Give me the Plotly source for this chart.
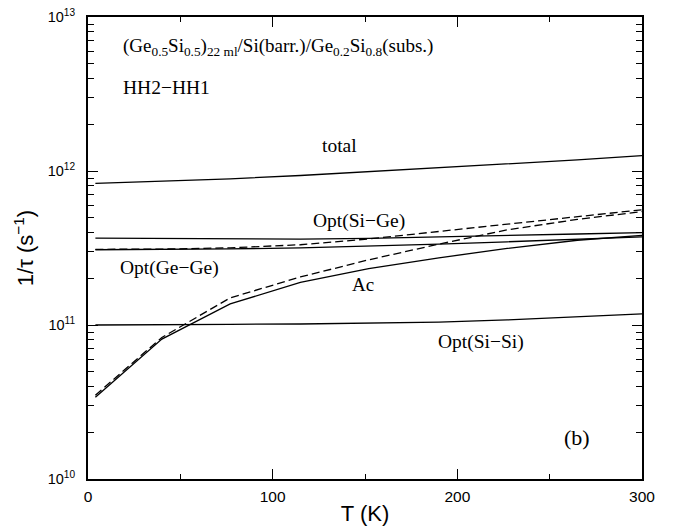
import plotly.graph_objects as go

# Temperature grid (K)
T = [4, 40, 77, 115, 152, 190, 227, 265, 300]

# Scattering rates 1/tau (s^-1)
total = [8.3e11, 8.55e11, 8.9e11, 9.35e11, 9.9e11, 1.05e12, 1.11e12, 1.18e12, 1.26e12]
opt_sige = [3.66e11, 3.64e11, 3.62e11, 3.61e11, 3.65e11, 3.72e11, 3.8e11, 3.9e11, 3.98e11]
opt_gege = [3.08e11, 3.09e11, 3.12e11, 3.17e11, 3.25e11, 3.35e11, 3.47e11, 3.6e11, 3.74e11]
opt_gege_dash = [3.1e11, 3.11e11, 3.17e11, 3.32e11, 3.62e11, 4.05e11, 4.55e11, 5.05e11, 5.6e11]
ac = [3.4e10, 8.1e10, 1.37e11, 1.89e11, 2.32e11, 2.73e11, 3.14e11, 3.55e11, 3.82e11]
ac_dash = [3.5e10, 8.3e10, 1.5e11, 2.05e11, 2.65e11, 3.35e11, 4.15e11, 4.85e11, 5.45e11]
opt_sisi = [1.0e11, 1.0e11, 1.01e11, 1.015e11, 1.025e11, 1.045e11, 1.08e11, 1.125e11, 1.18e11]

# axis ticks
x_major = [0, 100, 200, 300]
x_minor = [50, 150, 250]
y_major = [1e10, 1e11, 1e12, 1e13]
y_major_text = ["10<sup>10</sup>", "10<sup>11</sup>", "10<sup>12</sup>", "10<sup>13</sup>"]
decades = [1e10, 1e11, 1e12]
minor_digits = [2, 3, 4, 5, 6, 7, 8, 9]
y_minor = [d * m for d in decades for m in minor_digits]

series = [
    ("total", total, "solid"),
    ("Opt(Si-Ge)", opt_sige, "solid"),
    ("Opt(Ge-Ge)", opt_gege, "solid"),
    ("Opt(Ge-Ge) dashed", opt_gege_dash, "8px,4px"),
    ("Ac", ac, "solid"),
    ("Ac dashed", ac_dash, "8px,4px"),
    ("Opt(Si-Si)", opt_sisi, "solid"),
]

fig = go.Figure()
for name, vals, dash in series:
    fig.add_trace(go.Scatter(x=T, y=vals, mode="lines", name=name,
                             line=dict(color="black", width=1.3, dash=dash),
                             showlegend=False))

serif = "Liberation Serif"
labels = [
    ("total", 136, 12.167, "center", 19.5),
    ("Opt(Si\u2212Ge)", 147, 11.673, "center", 19.5),
    ("Opt(Ge\u2212Ge)", 44, 11.373, "center", 19.5),
    ("Ac", 149, 11.264, "center", 19),
    ("Opt(Si\u2212Si)", 213, 10.887, "center", 19.5),
    ("(b)", 265, 10.27, "center", 22),
    ("(Ge<sub>0.5</sub>Si<sub>0.5</sub>)<sub>22 ml</sub>/Si(barr.)/Ge<sub>0.2</sub>Si<sub>0.8</sub>(subs.)", 18, 12.808, "left", 19),
    ("HH2\u2212HH1", 18, 12.54, "left", 19.5),
]
for text, x, y, anchor, size in labels:
    fig.add_annotation(x=x, y=y, text=text, showarrow=False, xanchor=anchor,
                       yanchor="middle", font=dict(family=serif, size=size, color="black"))

fig.update_layout(
    width=673, height=529,
    margin=dict(l=88, r=31, t=17, b=50, autoexpand=False),
    plot_bgcolor="white", paper_bgcolor="white",
    font=dict(family="Liberation Sans", color="black"),
    xaxis=dict(
        range=[0, 300], tickmode="array", tickvals=x_major,
        ticks="inside", ticklen=10, tickwidth=1.2, tickcolor="black",
        minor=dict(ticks="inside", ticklen=5, tickmode="array", tickvals=x_minor,
                   tickcolor="black", tickwidth=1.2),
        showline=True, linewidth=2, linecolor="black", mirror="ticks",
        showgrid=False, zeroline=False,
        tickfont=dict(size=15.5),
        ticklabelstandoff=2,
        title=dict(text="T (K)", font=dict(size=22), standoff=2),
    ),
    yaxis=dict(
        type="log", range=[10, 13],
        tickmode="array", tickvals=y_major, ticktext=y_major_text,
        ticks="inside", ticklen=10, tickwidth=1.2, tickcolor="black",
        minor=dict(ticks="inside", ticklen=6, tickmode="array", tickvals=y_minor,
                   tickcolor="black", tickwidth=1.2),
        showline=True, linewidth=2, linecolor="black", mirror="ticks",
        showgrid=False, zeroline=False,
        tickfont=dict(size=14.5),
        ticklabelstandoff=8,
        title=dict(text="1/\u03c4 (s<sup>\u22121</sup>)", font=dict(size=22), standoff=8),
    ),
)

fig.write_html("out.html")
